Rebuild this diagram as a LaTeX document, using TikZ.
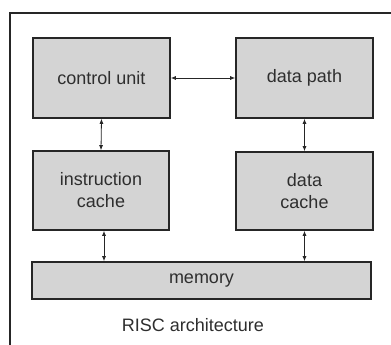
\documentclass[tikz,border=0pt]{standalone}
\usepackage{fontspec}
\setmainfont{Liberation Sans}
\usepackage{xcolor}
\usetikzlibrary{shapes,arrows.meta,positioning,calc}
\definecolor{boxgray}{HTML}{D4D4D4}
\definecolor{edge}{HTML}{262626}
\definecolor{txt}{HTML}{2E2E2E}
\tikzset{
  unit/.style={draw=edge,fill=boxgray,line width=1.6pt,text=txt,
    font=\fontsize{18}{22}\selectfont,align=center,inner sep=0pt},
  link/.style={{Latex[length=5pt,width=4pt]}-{Latex[length=5pt,width=4pt]},line width=0.8pt,draw=edge}
}

\begin{document}
\begin{tikzpicture}[x=1pt,y=1pt]
  \useasboundingbox (0,0) rectangle (391,345);
  \fill[white] (0,0) rectangle (391,345);
  % Rahmen
  \draw[edge,line width=1.8pt] (10,-20) -- (10,332) -- (410,332);
  % Blöcke
  \node[unit,minimum width=137pt,minimum height=80pt] (cu) at (101.5,267) {control unit};
  \node[unit,minimum width=137pt,minimum height=80pt] (dp) at (304.5,267) {data path};
  \node[unit,minimum width=136pt,minimum height=79pt] (ic) at (101,154.5) {instruction\\cache};
  \node[unit,minimum width=137pt,minimum height=78pt] (dc) at (304.5,154) {data\\cache};
  \node[unit,minimum width=339pt,minimum height=37pt] (mem) at (201.5,64.5) {memory};
  \node[text=txt,font=\fontsize{18}{22}\selectfont] (title) at (193,20) {RISC architecture};
  % Verbindungen
  \coordinate (icm) at ($(ic.south)+(3,0)$);
  \draw[link] (cu.east) -- (dp.west);
  \draw[link] (cu.south) -- (ic.north);
  \draw[link] (dp.south) -- (dc.north);
  \draw[link] (icm) -- (icm |- mem.north);
  \draw[link] (dc.south) -- (dc.south |- mem.north);
\end{tikzpicture}
\end{document}
